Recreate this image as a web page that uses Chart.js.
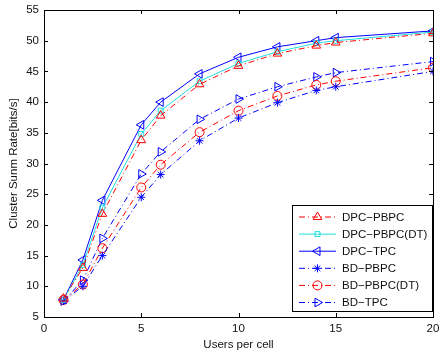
<!DOCTYPE html>
<html>
<head>
<meta charset="utf-8">
<script src="https://cdn.jsdelivr.net/npm/chart.js@4/dist/chart.umd.min.js"></script>
<style>
html,body{margin:0;padding:0;background:#fff;}
#wrap{width:439px;height:354px;position:relative;}
</style>
</head>
<body>
<div id="wrap"><canvas id="c" width="439" height="354"></canvas></div>
<script>
const users = [1, 2, 3, 5, 6, 8, 10, 12, 14, 15, 20];
const dpcPbpc   = [8.0, 13.0, 21.8, 33.8, 37.8, 42.9, 45.9, 47.9, 49.2, 49.7, 51.2];
const dpcPbpcDt = [7.8, 13.5, 22.8, 34.8, 38.6, 43.4, 46.3, 48.2, 49.6, 50.0, 51.4];
const dpcTpc    = [7.8, 14.3, 24.0, 36.3, 40.0, 44.6, 47.3, 49.0, 50.0, 50.5, 51.6];
const bdPbpc    = [7.6, 10.0, 15.0, 24.5, 28.2, 33.7, 37.4, 39.9, 41.9, 42.5, 45.0];
const bdPbpcDt  = [7.8, 10.3, 16.2, 26.1, 29.8, 35.1, 38.6, 41.0, 42.8, 43.4, 45.6];
const bdTpc     = [7.6, 11.0, 17.8, 28.3, 31.9, 37.2, 40.5, 42.5, 44.1, 44.8, 46.6];
const seriesNames = ['DPC\u2212PBPC', 'DPC\u2212PBPC(DT)', 'DPC\u2212TPC', 'BD\u2212PBPC', 'BD\u2212PBPC(DT)', 'BD\u2212TPC'];
const xTicks = [0, 5, 10, 15, 20];
const yTicks = [5, 10, 15, 20, 25, 30, 35, 40, 45, 50, 55];

const RED = '#ff0000', BLUE = '#0000ff', CYAN = '#20dede';
const DASHDOT = [6, 3, 1, 3];
const FONT = '"Liberation Sans", Arial, Helvetica, sans-serif';
const FS = 11.5;

function mk(label, data, color, dash, style, rot, radius) {
  return {
    label: label,
    data: users.map((u, i) => ({x: u, y: data[i]})),
    borderColor: color,
    backgroundColor: 'rgba(0,0,0,0)',
    borderWidth: 1,
    borderDash: dash,
    pointStyle: style,
    rotation: rot,
    pointRadius: radius,
    pointBorderColor: color,
    pointBackgroundColor: 'rgba(0,0,0,0)',
    pointBorderWidth: 1,
    tension: 0,
    fill: false
  };
}

const datasets = [
  mk(seriesNames[0], dpcPbpc, RED, DASHDOT, 'triangle', 0, 5),
  mk(seriesNames[1], dpcPbpcDt, CYAN, [], 'rect', 0, 3.5),
  mk(seriesNames[2], dpcTpc, BLUE, [], 'triangle', -90, 5),
  mk(seriesNames[3], bdPbpc, BLUE, DASHDOT, 'star', 0, 4),
  mk(seriesNames[4], bdPbpcDt, RED, DASHDOT, 'circle', 0, 4.5),
  mk(seriesNames[5], bdTpc, BLUE, DASHDOT, 'triangle', 90, 5)
];

const framePlugin = {
  id: 'frame',
  afterDraw(chart) {
    const ctx = chart.ctx, a = chart.chartArea;
    const xs = chart.scales.x, ys = chart.scales.y;
    ctx.save();
    ctx.strokeStyle = '#000';
    ctx.lineWidth = 1;
    ctx.setLineDash([]);
    ctx.strokeRect(Math.round(a.left) + 0.5, Math.round(a.top) + 0.5,
                   Math.round(a.right - a.left), Math.round(a.bottom - a.top));
    const tl = 4;
    ctx.beginPath();
    xTicks.forEach(v => {
      const px = Math.round(xs.getPixelForValue(v)) + 0.5;
      ctx.moveTo(px, a.bottom); ctx.lineTo(px, a.bottom - tl);
      ctx.moveTo(px, a.top); ctx.lineTo(px, a.top + tl);
    });
    yTicks.forEach(v => {
      const py = Math.round(ys.getPixelForValue(v)) + 0.5;
      ctx.moveTo(a.left, py); ctx.lineTo(a.left + tl, py);
      ctx.moveTo(a.right, py); ctx.lineTo(a.right - tl, py);
    });
    ctx.stroke();

    // legend box
    const lx = 292.5, ly = 205.5, lw = 140, lh = 106;
    ctx.fillStyle = '#fff';
    ctx.fillRect(lx, ly, lw, lh);
    ctx.strokeRect(lx, ly, lw, lh);
    const rowH = 17.1;
    chart.data.datasets.forEach((ds, i) => {
      const cy = ly + 11.5 + i * rowH;
      ctx.strokeStyle = ds.borderColor;
      ctx.lineWidth = 1;
      ctx.setLineDash(ds.borderDash || []);
      ctx.beginPath();
      ctx.moveTo(299, cy); ctx.lineTo(336, cy);
      ctx.stroke();
      ctx.setLineDash([]);
      ctx.fillStyle = 'rgba(0,0,0,0)';
      Chart.helpers.drawPoint(ctx, {
        pointStyle: ds.pointStyle, rotation: ds.rotation,
        radius: ds.pointRadius, borderWidth: 1
      }, 317.5, cy);
      ctx.fillStyle = '#111';
      ctx.font = FS + 'px ' + FONT;
      ctx.textBaseline = 'middle';
      ctx.textAlign = 'left';
      ctx.fillText(ds.label, 342, cy + 0.5);
    });
    ctx.restore();
  }
};

new Chart(document.getElementById('c'), {
  type: 'line',
  data: { datasets: datasets },
  options: {
    responsive: false,
    animation: false,
    devicePixelRatio: 1,
    layout: { padding: { left: 0, top: 10, right: 4, bottom: 0 } },
    plugins: { legend: { display: false }, tooltip: { enabled: false } },
    scales: {
      x: {
        type: 'linear', min: 0, max: 20,
        afterBuildTicks: s => { s.ticks = xTicks.map(v => ({value: v})); },
        afterFit: s => { s.height = 37; s.paddingLeft = 0; s.paddingRight = 0; },
        grid: { display: false, drawTicks: false },
        border: { display: false },
        ticks: { padding: 5, color: '#111', font: { family: FONT, size: FS }, maxRotation: 0 },
        title: { display: true, text: 'Users per cell', color: '#111', font: { family: FONT, size: FS }, padding: { top: 0, bottom: 2 } }
      },
      y: {
        type: 'linear', min: 5, max: 55,
        afterBuildTicks: s => { s.ticks = yTicks.map(v => ({value: v})); },
        afterFit: s => { s.width = 44; s.paddingTop = 0; s.paddingBottom = 0; },
        grid: { display: false, drawTicks: false },
        border: { display: false },
        ticks: { padding: 5, color: '#111', font: { family: FONT, size: FS } },
        title: { display: true, text: 'Cluster Sunm Rate[bits/s]', color: '#111', font: { family: FONT, size: FS }, padding: { top: 7, bottom: 0 } }
      }
    }
  },
  plugins: [framePlugin]
});
</script>
</body>
</html>
